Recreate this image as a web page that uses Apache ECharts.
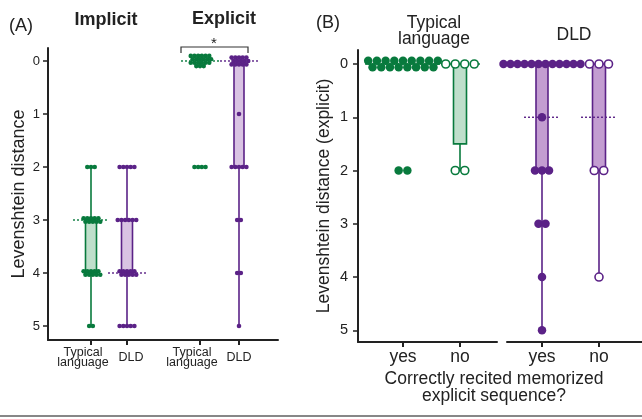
<!DOCTYPE html>
<html><head><meta charset="utf-8">
<script src="https://cdn.jsdelivr.net/npm/echarts@6/dist/echarts.min.js"></script>
<style>html,body{margin:0;padding:0;background:#fff}#c{width:642px;height:419px}</style>
</head><body><div id="c"></div>
<script>
// ---------------- DATA ----------------
const groupLabels = ['Typical\nlanguage', 'DLD'];
const conditionLabels = ['Implicit', 'Explicit'];
const recitedLabels = ['yes', 'no'];
const yTicks = [0, 1, 2, 3, 4, 5];
const yTitleA = 'Levenshtein distance';
const yTitleB = 'Levenshtein distance (explicit)';
const xTitleB = 'Correctly recited memorized\nexplicit sequence?';

// Panel A: individual Levenshtein distances
const implicitTL  = [2,2,2,3,3,3,3,3,3,3,3,3,3,4,4,4,4,4,4,4,4,4,4,5,5];
const implicitDLD = [2,2,2,2,2,3,3,3,3,3,3,4,4,4,4,4,4,4,4,4,4,5,5,5,5,5];
const explicitTL  = [0,0,0,0,0,0,0,0,0,0,0,0,0,0,0,0,0,0,0,0,0,2,2,2,2];
const explicitDLD = [0,0,0,0,0,0,0,0,0,0,0,0,0,0,0,1,2,2,2,2,2,3,3,4,4,5];
// Panel B: explicit distances split by correct recitation
const tlYes  = [0,0,0,0,0,0,0,0,0,0,0,0,0,0,0,0,0,2,2];
const tlNo   = [0,0,0,0,2,2];
const dldYes = [0,0,0,0,0,0,0,0,0,0,0,0,1,2,2,2,3,3,4,5];
const dldNo  = [0,0,0,2,2,4];

// Box summaries [whiskerLow, q1, median, q3, whiskerHigh]
const boxImplicitTL  = [2, 3, 3, 4, 5];
const boxImplicitDLD = [2, 3, 4, 4, 5];
const boxExplicitTL  = [0, 0, 0, 0, 0];
const boxExplicitDLD = [0, 0, 0, 2, 5];
const boxTlYes  = [0, 0, 0, 0, 0];
const boxTlNo   = [0, 0, 0, 1.5, 2];
const boxDldYes = [0, 0, 1, 2, 5];
const boxDldNo  = [0, 0, 1, 2, 4];

// ---------------- STYLE / LAYOUT ----------------
const FONT = '"Liberation Sans", Arial, Helvetica, sans-serif';
const GREEN = '#087a3d', PURPLE = '#5b2287';
const GREEN_FILL = '#bfdfcb', PURPLE_FILL_A = '#d9c3e3', PURPLE_FILL_B = '#c39dd1';
const AX = '#222';
const posA_TL = [43, 152];           // panel A: typical language (implicit, explicit)
const posA_DLD = [79, 191];          // panel A: DLD (implicit, explicit)
const posBL = [45, 102];             // panel B left (typical language)
const posBR = [35, 92];              // panel B right (DLD)

function swarm(values, spacing, maxPerRow, rowGap) {
  const counts = {}; values.forEach(v => counts[v] = (counts[v] || 0) + 1);
  const seen = {};
  return values.map(v => {
    const n = counts[v];
    const i = seen[v] = (seen[v] === undefined ? 0 : seen[v] + 1);
    const rows = Math.ceil(n / maxPerRow);
    const perRow = Math.ceil(n / rows);
    const r = Math.floor(i / perRow);
    const inRow = (r < rows - 1) ? perRow : n - perRow * (rows - 1);
    const k = i - r * perRow;
    const stagger = (rows > 1 && inRow === perRow && r % 2 === 1) ? spacing / 2 : 0;
    return [(k - (inRow - 1) / 2) * spacing + stagger, (r - (rows - 1) / 2) * rowGap];
  });
}

function dots(values, x, gi, opt) {
  const offs = swarm(values, opt.spacing, opt.maxPerRow, opt.rowGap);
  return {
    type: 'scatter', xAxisIndex: gi, yAxisIndex: gi, silent: true, z: 5,
    symbol: 'circle', symbolSize: opt.size,
    itemStyle: opt.hollow ? { color: '#fff', borderColor: opt.color, borderWidth: 1.6, opacity: 1 }
                          : { color: opt.color, opacity: 1 },
    data: values.map((v, i) => ({ value: [x, v], symbolOffset: offs[i] }))
  };
}

function box(stats, x, gi, color, fill, halfW, medHalf) {
  return {
    type: 'custom', xAxisIndex: gi, yAxisIndex: gi, silent: true, z: 3, clip: false,
    encode: { x: 0, y: [1, 2, 3, 4, 5] },
    data: [[x].concat(stats)],
    renderItem: function (params, api) {
      const xv = api.value(0);
      const lo = api.coord([xv, api.value(1)]), q1 = api.coord([xv, api.value(2)]);
      const md = api.coord([xv, api.value(3)]), q3 = api.coord([xv, api.value(4)]);
      const hi = api.coord([xv, api.value(5)]);
      const ch = [];
      if (Math.abs(hi[1] - lo[1]) > 0.5)
        ch.push({ type: 'line', shape: { x1: lo[0], y1: lo[1], x2: hi[0], y2: hi[1] },
                  style: { stroke: color, lineWidth: 1.6 } });
      if (Math.abs(q3[1] - q1[1]) > 0.5)
        ch.push({ type: 'rect', shape: { x: q1[0] - halfW, y: Math.min(q1[1], q3[1]), width: 2 * halfW, height: Math.abs(q3[1] - q1[1]) },
                  style: { fill: fill, stroke: color, lineWidth: 1.6 } });
      ch.push({ type: 'line', shape: { x1: md[0] - medHalf, y1: md[1], x2: md[0] + medHalf, y2: md[1] },
                style: { stroke: color, lineWidth: 1.4, lineDash: [2, 2] } });
      return { type: 'group', children: ch };
    }
  };
}

function yAxis(gi, show, min, max, name, nameSize, labSize, margin, nameGap) {
  return {
    gridIndex: gi, type: 'value', inverse: true, min: min, max: max, show: show, position: 'left',
    splitLine: { show: false },
    axisLine: { show: true, onZero: false, lineStyle: { color: AX, width: 2 } },
    axisTick: { show: true, customValues: yTicks, length: 5, lineStyle: { color: AX, width: 1.5 } },
    axisLabel: { customValues: yTicks, fontSize: labSize, color: AX, fontFamily: FONT, margin: margin,
                 hideOverlap: false, showMinLabel: true, showMaxLabel: true },
    name: name, nameLocation: 'middle', nameGap: nameGap, nameRotate: 90,
    nameTextStyle: { fontSize: nameSize, color: AX, fontFamily: FONT }
  };
}

function xAxis(gi, max, ticks, formatter, labSize, margin, rich, showLine) {
  return {
    gridIndex: gi, type: 'value', min: 0, max: max, position: 'bottom', offset: 0,
    splitLine: { show: false },
    axisLine: { show: showLine !== false, onZero: false, lineStyle: { color: AX, width: 2 } },
    axisTick: { show: true, customValues: ticks, length: 5, lineStyle: { color: AX, width: 2 } },
    axisLabel: { customValues: ticks, formatter: formatter, fontSize: labSize, color: AX, interval: 0,
                 hideOverlap: false, showMinLabel: true, showMaxLabel: true,
                 fontFamily: FONT, margin: margin, lineHeight: 10, rich: rich || {} }
  };
}

const sA = { size: 4.6, spacing: 3.7, maxPerRow: 6, rowGap: 3.4 };
const richA = {
  tl: { fontSize: 12.5, lineHeight: 10, color: AX, fontFamily: FONT, padding: [0, 16, 0, 0] },
  dl: { fontSize: 12.5, lineHeight: 10, color: AX, fontFamily: FONT, padding: [0, 0, 0, 8] }
};
const tlFmt = () => groupLabels[0].split('\n').map(s => '{tl|' + s + '}').join('\n');
const dlFmt = v => v === posA_DLD[0] ? '{dl|' + groupLabels[1] + '}' : groupLabels[1];

const option = {
  animation: false,
  backgroundColor: '#fff',
  textStyle: { fontFamily: FONT },
  grid: [
    { left: 48, top: 48, width: 230, height: 292 },
    { left: 358, top: 50, width: 139, height: 292 },
    { left: 507, top: 50, width: 135, height: 292 }
  ],
  xAxis: [
    xAxis(0, 230, posA_TL, tlFmt, 12.5, 8, richA),
    xAxis(1, 139, posBL, v => v === posBL[0] ? recitedLabels[0] : recitedLabels[1], 17.5, 10),
    xAxis(2, 135, posBR, v => v === posBR[0] ? recitedLabels[0] : recitedLabels[1], 17.5, 10),
    xAxis(0, 230, posA_DLD, dlFmt, 12.5, 13, richA, false)
  ],
  yAxis: [
    yAxis(0, true, -0.245, 5.264, yTitleA, 18, 13, 8, 20),
    yAxis(1, true, -0.263, 5.22, yTitleB, 17.5, 14.5, 10, 25),
    yAxis(2, false, -0.263, 5.22, '', 12, 12, 8, 20)
  ],
  series: [
    box(boxImplicitTL, posA_TL[0], 0, GREEN, GREEN_FILL, 5.5, 18),
    box(boxImplicitDLD, posA_DLD[0], 0, PURPLE, PURPLE_FILL_A, 5.5, 19),
    box(boxExplicitTL, posA_TL[1], 0, GREEN, GREEN_FILL, 5.5, 19),
    box(boxExplicitDLD, posA_DLD[1], 0, PURPLE, PURPLE_FILL_A, 5, 19),
    dots(implicitTL, posA_TL[0], 0, Object.assign({ color: GREEN }, sA)),
    dots(implicitDLD, posA_DLD[0], 0, Object.assign({ color: PURPLE }, sA)),
    dots(explicitTL, posA_TL[1], 0, Object.assign({ color: GREEN }, sA)),
    dots(explicitDLD, posA_DLD[1], 0, Object.assign({ color: PURPLE }, sA)),

    box(boxTlYes, posBL[0], 1, GREEN, GREEN_FILL, 6.5, 38),
    box(boxTlNo, posBL[1], 1, GREEN, GREEN_FILL, 6.5, 22),
    box(boxDldYes, posBR[0], 2, PURPLE, PURPLE_FILL_B, 6, 18),
    box(boxDldNo, posBR[1], 2, PURPLE, PURPLE_FILL_B, 6.5, 18),
    dots(tlYes, posBL[0], 1, { color: GREEN, size: 8.5, spacing: 8.7, maxPerRow: 12, rowGap: 6.5 }),
    dots(tlNo, posBL[1], 1, { color: GREEN, size: 8, spacing: 9.5, maxPerRow: 12, rowGap: 6, hollow: true }),
    dots(dldYes, posBR[0], 2, { color: PURPLE, size: 8.5, spacing: 7, maxPerRow: 12, rowGap: 6 }),
    dots(dldNo, posBR[1], 2, { color: PURPLE, size: 8, spacing: 9.5, maxPerRow: 12, rowGap: 6, hollow: true })
  ],
  graphic: [
    { type: 'text', left: 9, top: 17, style: { text: '(A)', font: '18px ' + FONT, fill: AX } },
    { type: 'text', x: 106, y: 20, style: { text: conditionLabels[0], font: 'bold 18px ' + FONT, fill: AX, align: 'center', verticalAlign: 'middle' } },
    { type: 'text', x: 224, y: 19, style: { text: conditionLabels[1], font: 'bold 18px ' + FONT, fill: AX, align: 'center', verticalAlign: 'middle' } },
    { type: 'polyline', shape: { points: [[181, 53], [181, 47], [248, 47], [248, 53]] }, style: { stroke: '#333', lineWidth: 1.2, fill: null } },
    { type: 'text', x: 214, y: 44, style: { text: '*', font: '15px ' + FONT, fill: AX, align: 'center', verticalAlign: 'middle' } },
    { type: 'text', left: 316, top: 14, style: { text: '(B)', font: '18px ' + FONT, fill: AX } },
    { type: 'text', x: 434, y: 31, style: { text: groupLabels[0], font: '17.5px ' + FONT, lineHeight: 16, fill: AX, align: 'center', verticalAlign: 'middle' } },
    { type: 'text', x: 574, y: 35, style: { text: groupLabels[1], font: '17.5px ' + FONT, fill: AX, align: 'center', verticalAlign: 'middle' } },
    { type: 'text', x: 494, y: 388, style: { text: xTitleB, font: '17.5px ' + FONT, lineHeight: 17, fill: AX, align: 'center', verticalAlign: 'middle' } },
    { type: 'line', shape: { x1: 0, y1: 416, x2: 642, y2: 416 }, style: { stroke: '#111', lineWidth: 1.2 } }
  ]
};

const chart = echarts.init(document.getElementById('c'), null, { renderer: 'canvas' });
chart.setOption(option);
</script>
</body></html>
